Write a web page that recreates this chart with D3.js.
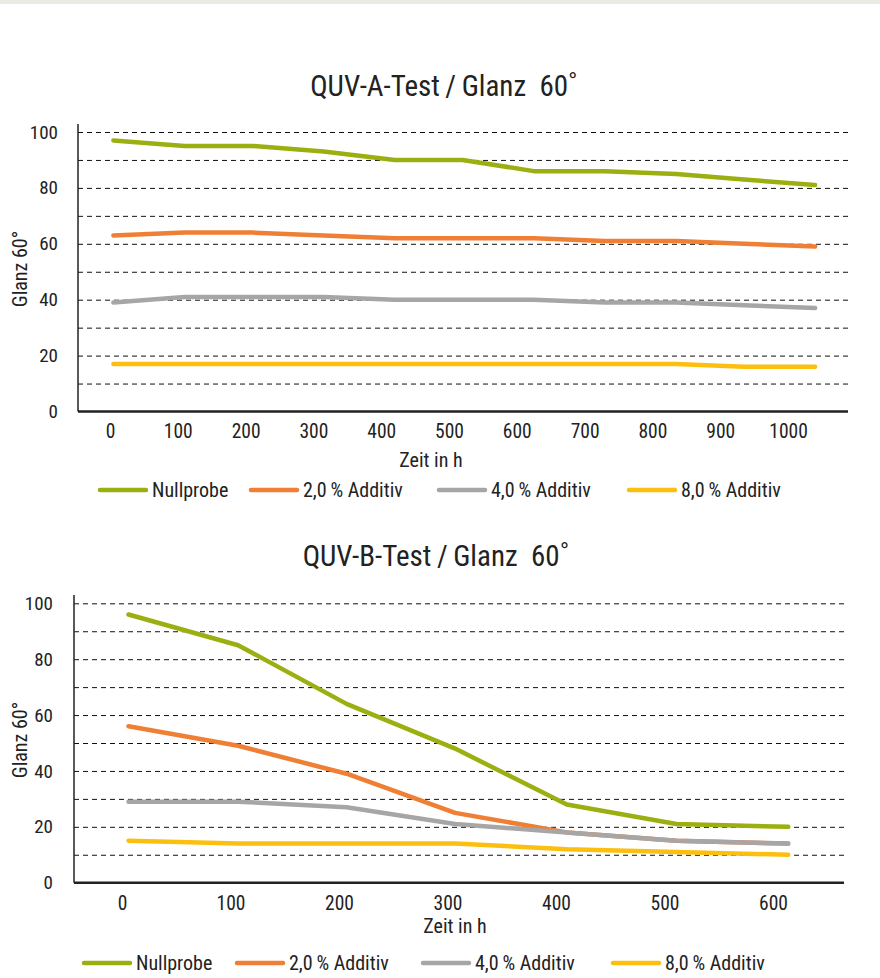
<!DOCTYPE html>
<html>
<head>
<meta charset="utf-8">
<script src="https://cdn.jsdelivr.net/npm/d3@7"></script>
<style>
  body { margin: 0; background: #fff; }
  svg text { font-family: "Roboto Condensed", "Liberation Sans Narrow", "Arial Narrow", "DejaVu Sans Condensed", sans-serif; fill: #222; }
</style>
</head>
<body>
<div id="chart"></div>
<script>
/* DATA */
const seriesNames = ["Nullprobe", "2,0\u2009% Additiv", "4,0\u2009% Additiv", "8,0\u2009% Additiv"];
const seriesColors = ["#9caf10", "#ef7f34", "#a6a6a6", "#fcbf10"];

// QUV-A test
const hoursA = [5, 110, 210, 315, 420, 520, 625, 730, 835, 935, 1040];
const nullA = [97, 95, 95, 93, 90, 90, 86, 86, 85, 83, 81];
const add2A = [63, 64, 64, 63, 62, 62, 62, 61, 61, 60, 59];
const add4A = [39, 41, 41, 41, 40, 40, 40, 39, 39, 38, 37];
const add8A = [17, 17, 17, 17, 17, 17, 17, 17, 17, 16, 16];
const xTicksA = [0, 100, 200, 300, 400, 500, 600, 700, 800, 900, 1000];

// QUV-B test
const hoursB = [6, 107, 207, 307, 410, 511, 614];
const nullB = [96, 85, 64, 48, 28, 21, 20];
const add2B = [56, 49, 39, 25, 18, 15, 14];
const add4B = [29, 29, 27, 21, 18, 15, 14];
const add8B = [15, 14, 14, 14, 12, 11, 10];
const xTicksB = [0, 100, 200, 300, 400, 500, 600];

const yTicks = [0, 20, 40, 60, 80, 100];
const gridTicks = [10, 20, 30, 40, 50, 60, 70, 80, 90, 100];

const width = 880, height = 978;

const svg = d3.select("#chart").append("svg")
  .attr("width", width)
  .attr("height", height);

// grey strip at the very top
svg.append("rect").attr("x", 0).attr("y", 0).attr("width", width).attr("height", 4).attr("fill", "#e9eae3");

function drawChart(cfg) {
  const g = svg.append("g");

  const xScale = d3.scaleLinear()
    .domain([0, cfg.xMax])
    .range([cfg.x0, cfg.xMaxPx]);

  const yScale = d3.scaleLinear()
    .domain([0, 100])
    .range([cfg.yBottom, cfg.yTop]);

  // title
  const title = g.append("text")
    .attr("x", cfg.titleX)
    .attr("y", cfg.titleY)
    .attr("text-anchor", "middle")
    .attr("font-size", 29)
    .attr("xml:space", "preserve")
    .text(cfg.title + "\u2009/\u2009Glanz  60");
  title.append("tspan").text("˚");

  // dashed grid lines
  g.append("g")
    .attr("transform", `translate(${cfg.left},0)`)
    .call(d3.axisLeft(yScale).tickValues(gridTicks).tickSize(-(cfg.right - cfg.left)).tickFormat(""))
    .call(s => s.select(".domain").remove())
    .call(s => s.selectAll("line")
      .attr("stroke", "#111")
      .attr("stroke-width", 1)
      .attr("stroke-dasharray", "5,4"));

  // y axis
  const yAxis = g.append("g")
    .attr("transform", `translate(${cfg.left},0)`)
    .call(d3.axisLeft(yScale).tickValues(yTicks).tickSize(0).tickPadding(cfg.left - cfg.tickLabelX));
  yAxis.select(".domain").remove();
  yAxis.selectAll("text").attr("font-size", 19).attr("fill", "#222");

  g.append("line")
    .attr("x1", cfg.left).attr("x2", cfg.left)
    .attr("y1", cfg.axisTop).attr("y2", yScale(0))
    .attr("stroke", "#222").attr("stroke-width", 1.5);

  // x axis
  const xAxis = g.append("g")
    .attr("transform", `translate(0,${yScale(0)})`)
    .call(d3.axisBottom(xScale).tickValues(cfg.xTicks).tickSize(0).tickPadding(13).tickFormat(d3.format("d")));
  xAxis.select(".domain").remove();
  xAxis.selectAll("text").attr("font-size", 19.5).attr("fill", "#222");

  g.append("line")
    .attr("x1", cfg.left).attr("x2", cfg.right)
    .attr("y1", yScale(0)).attr("y2", yScale(0))
    .attr("stroke", "#222").attr("stroke-width", 2.5);

  // axis titles
  g.append("text")
    .attr("x", cfg.xTitleX)
    .attr("y", cfg.xTitleY)
    .attr("text-anchor", "middle")
    .attr("font-size", 20)
    .text("Zeit in h");

  g.append("text")
    .attr("transform", `translate(27,${cfg.yTitleY}) rotate(-90)`)
    .attr("text-anchor", "middle")
    .attr("font-size", 20)
    .text("Glanz 60°");

  // lines
  const lineFunction = d3.line()
    .x((d, i) => xScale(cfg.hours[i]))
    .y(d => yScale(d));

  g.selectAll("path.line")
    .data(cfg.series)
    .join("path")
    .attr("class", "line")
    .attr("fill", "none")
    .attr("stroke", (d, i) => seriesColors[i])
    .attr("stroke-width", 4.5)
    .attr("stroke-linecap", "round")
    .attr("stroke-linejoin", "round")
    .attr("d", lineFunction);

  // legend
  const legend = g.selectAll("g.legend")
    .data(seriesNames)
    .join("g")
    .attr("class", "legend")
    .attr("transform", (d, i) => `translate(${cfg.legendX[i]},${cfg.legendY})`);

  legend.append("line")
    .attr("x1", 0).attr("x2", 46)
    .attr("stroke", (d, i) => seriesColors[i])
    .attr("stroke-width", 4.5)
    .attr("stroke-linecap", "round");

  legend.append("text")
    .attr("x", 52)
    .attr("y", 6.5)
    .attr("font-size", 20)
    .text(d => d);
}

drawChart({
  title: "QUV-A-Test",
  hours: hoursA,
  series: [nullA, add2A, add4A, add8A],
  xTicks: xTicksA,
  xMax: 1000,
  x0: 110, xMaxPx: 788,
  left: 78, right: 848,
  axisTop: 124, yTop: 132, yBottom: 411.5,
  tickLabelX: 58,
  titleX: 444, titleY: 96,
  xTitleX: 431, xTitleY: 467,
  yTitleY: 269,
  legendX: [100, 251, 439, 629],
  legendY: 490
});

drawChart({
  title: "QUV-B-Test",
  hours: hoursB,
  series: [nullB, add2B, add4B, add8B],
  xTicks: xTicksB,
  xMax: 600,
  x0: 122, xMaxPx: 773,
  left: 74, right: 844,
  axisTop: 595, yTop: 603.3, yBottom: 882.7,
  tickLabelX: 53,
  titleX: 436, titleY: 566,
  xTitleX: 455, xTitleY: 933,
  yTitleY: 740,
  legendX: [84, 237, 423, 613],
  legendY: 963
});
</script>
</body>
</html>
